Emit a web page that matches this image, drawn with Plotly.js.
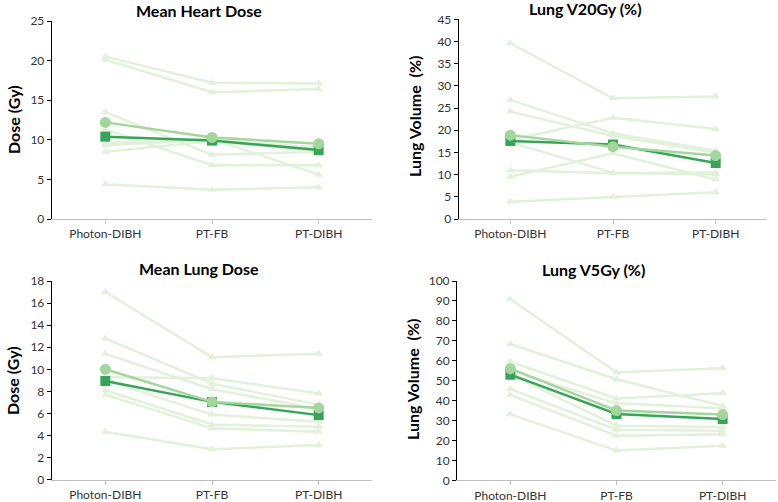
<!DOCTYPE html>
<html>
<head>
<meta charset="utf-8">
<script src="https://cdn.plot.ly/plotly-3.0.1.min.js"></script>
<style>
	html, body { margin: 0; padding: 0; background: #fff; }
	#chart { width: 778px; height: 502px; }
</style>
</head>
<body>
<div id="chart"></div>
<script>
const categories = ['Photon-DIBH', 'PT-FB', 'PT-DIBH'];

// Mean Heart Dose (Gy), one entry per patient
const heartPhoton = [20.5, 20.1, 13.5, 11.3, 9.6, 9.3, 8.5, 4.4];
const heartPtFb = [17.2, 16.0, 8.1, 6.8, 10.1, 10.0, 9.8, 3.7];
const heartPtDibh = [17.1, 16.4, 8.5, 6.8, 5.6, 9.0, 8.6, 4.0];
const heartMean = [12.2, 10.3, 9.5];
const heartMedian = [10.4, 9.9, 8.7];

// Lung V20Gy (%)
const v20Photon = [39.6, 26.8, 24.2, 17.8, 17.3, 11.0, 9.5, 3.9];
const v20PtFb = [27.2, 19.3, 18.7, 22.8, 10.4, 10.3, 14.8, 5.0];
const v20PtDibh = [27.6, 15.4, 15.0, 20.3, 10.0, 10.5, 8.9, 6.0];
const v20Mean = [18.9, 16.3, 14.3];
const v20Median = [17.6, 16.8, 12.6];

// Mean Lung Dose (Gy)
const mldPhoton = [17.0, 12.8, 11.4, 9.3, 9.0, 8.1, 7.7, 4.35];
const mldPtFb = [11.1, 8.7, 8.2, 9.2, 5.9, 5.0, 4.65, 2.75];
const mldPtDibh = [11.4, 6.8, 6.4, 7.8, 5.25, 4.8, 4.35, 3.15];
const mldMean = [10.0, 7.05, 6.5];
const mldMedian = [8.95, 7.05, 5.85];

// Lung V5Gy (%)
const v5Photon = [90.8, 68.4, 59.5, 55.0, 53.0, 45.8, 42.8, 33.1];
const v5PtFb = [54.2, 50.7, 41.1, 38.6, 27.4, 25.4, 22.4, 14.9];
const v5PtDibh = [56.2, 37.3, 43.7, 36.1, 26.8, 24.8, 23.1, 17.3];
const v5Mean = [56.0, 35.0, 33.0];
const v5Median = [53.0, 33.3, 30.8];

const FONT = 'Lato, "Open Sans", Arial, sans-serif';
const patientColor = '#e2f1da';
const meanColor = '#a3d69c';
const medianColor = '#37a557';

function panelTraces(photon, ptFb, ptDibh, mean, median, n) {
	const xa = n === 1 ? 'x' : 'x' + n;
	const ya = n === 1 ? 'y' : 'y' + n;
	const traces = [];
	for (let i = 0; i < photon.length; i++) {
		traces.push({
			x: categories,
			y: [photon[i], ptFb[i], ptDibh[i]],
			xaxis: xa, yaxis: ya,
			mode: 'lines+markers',
			line: {color: patientColor, width: 2.5},
			marker: {symbol: 'triangle-up', size: 8, color: patientColor}
		});
	}
	traces.push({
		x: categories, y: median, xaxis: xa, yaxis: ya,
		mode: 'lines+markers',
		line: {color: medianColor, width: 2.5},
		marker: {symbol: 'square', size: 10, color: medianColor}
	});
	traces.push({
		x: categories, y: mean, xaxis: xa, yaxis: ya,
		mode: 'lines+markers',
		line: {color: meanColor, width: 2.5},
		marker: {symbol: 'circle', size: 11, color: meanColor}
	});
	return traces;
}

const data = [
	...panelTraces(heartPhoton, heartPtFb, heartPtDibh, heartMean, heartMedian, 1),
	...panelTraces(v20Photon, v20PtFb, v20PtDibh, v20Mean, v20Median, 2),
	...panelTraces(mldPhoton, mldPtFb, mldPtDibh, mldMean, mldMedian, 3),
	...panelTraces(v5Photon, v5PtFb, v5PtDibh, v5Mean, v5Median, 4)
];

const W = 778, H = 502;
function xAxis(left, right, anchor) {
	return {
		domain: [left / W, right / W], anchor: anchor,
		type: 'category', range: [-0.5, 2.5],
		showline: true, linecolor: '#bfbfbf', linewidth: 1,
		ticks: 'outside', ticklen: 4, tickcolor: '#bfbfbf',
		showgrid: false, zeroline: false,
		tickfont: {family: FONT, size: 12, color: '#333'}
	};
}
function yAxis(top, bottom, max, step, anchor) {
	return {
		domain: [1 - bottom / H, 1 - top / H], anchor: anchor,
		range: [0, max], dtick: step, tick0: 0,
		showline: true, linecolor: '#000', linewidth: 1.3,
		ticks: 'outside', ticklen: 4, tickcolor: '#000',
		showgrid: false, zeroline: false,
		tickfont: {family: FONT, size: 12, color: '#333'}
	};
}

function label(text, px, py, angle) {
	return {
		text: text, xref: 'paper', yref: 'paper',
		x: px / W, y: 1 - py / H, xanchor: 'center', yanchor: 'middle',
		showarrow: false, textangle: angle || 0,
		font: {family: FONT, size: 16, color: '#000', weight: 'bold'}
	};
}

const layout = {
	width: W, height: H,
	margin: {l: 0, r: 0, t: 0, b: 0},
	paper_bgcolor: '#fff', plot_bgcolor: '#fff',
	showlegend: false,
	xaxis: xAxis(52, 372, 'y'),
	yaxis: yAxis(21, 219, 25, 5, 'x'),
	xaxis2: xAxis(459, 767, 'y2'),
	yaxis2: yAxis(19.3, 219, 45, 5, 'x2'),
	xaxis3: xAxis(52, 372, 'y3'),
	yaxis3: yAxis(281, 479.7, 18, 2, 'x3'),
	xaxis4: xAxis(457.3, 775.7, 'y4'),
	yaxis4: yAxis(281, 480.3, 100, 10, 'x4'),
	annotations: [
		label('Mean Heart Dose', 199, 11),
		label('Lung V20Gy (%)', 585, 8.5),
		label('Mean Lung Dose', 199, 268),
		label('Lung V5Gy (%)', 593, 269),
		label('Dose (Gy)', 13, 120, -90),
		label('Lung Volume&nbsp;&nbsp;(%)', 414, 117, -90),
		label('Dose (Gy)', 12, 381, -90),
		label('Lung Volume&nbsp;&nbsp;(%)', 412, 380, -90)
	]
};

Plotly.newPlot('chart', data, layout, {staticPlot: true, displayModeBar: false});
</script>
</body>
</html>
